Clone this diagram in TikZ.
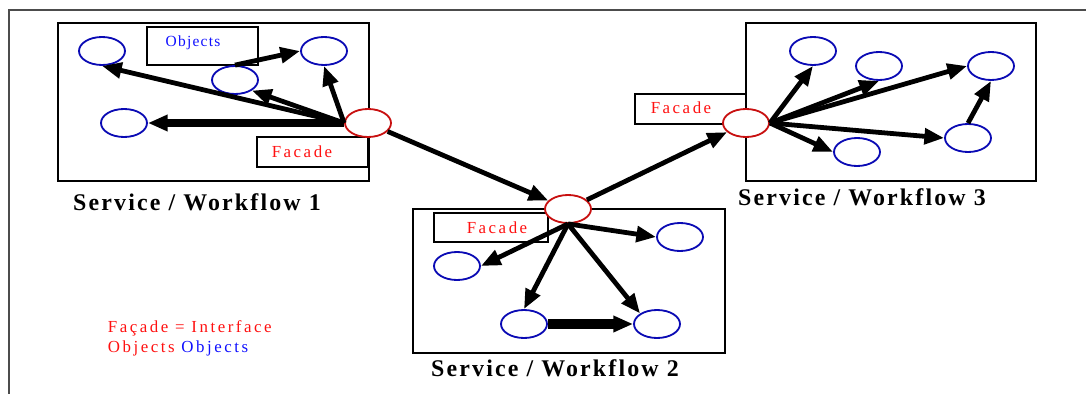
\documentclass[tikz,border=0pt]{standalone}
\usepackage{fontspec}
\setmainfont{Liberation Serif}
\newfontfamily\widefont[LetterSpace=15]{Liberation Serif}
\newfontfamily\titlefont[LetterSpace=9]{Liberation Serif}
\newfontfamily\tagfont[LetterSpace=8]{Liberation Serif}
\usetikzlibrary{arrows.meta,shapes.geometric}
\definecolor{objblue}{HTML}{0A0AB4}
\definecolor{facred}{HTML}{C81010}
\definecolor{txtred}{HTML}{FF1010}
\definecolor{txtblue}{HTML}{1010FF}

\tikzset{
  obj/.style={ellipse, draw=objblue, line width=1.3pt, fill=white,
    minimum width=1.15cm, minimum height=0.7cm, inner sep=0pt},
  fac/.style={obj, draw=facred},
  wfbox/.style={draw, line width=2pt},
  tagbox/.style={draw, line width=1.6pt, fill=white, inner sep=0pt},
  tagtext/.style={font=\widefont\fontsize{12}{14}\selectfont},
  wftitle/.style={font=\titlefont\fontsize{17}{19}\selectfont\bfseries},
  link/.style={-{Triangle[length=14pt,width=11pt]}, line width=3.4pt},
  heavy/.style={link, line width=5pt}
}

\begin{document}
\begin{tikzpicture}[x=0.025cm, y=-0.025cm]
	\useasboundingbox (0,0) rectangle (1086,394);
	% page frame
	\draw[line width=1.2pt, black!70] (9,394) -- (9,10) -- (1086,10);
	% service boxes
	\draw[wfbox] (58,23) rectangle (369,181);
	\draw[wfbox] (413,209) rectangle (725,353);
	\draw[wfbox] (746,23) rectangle (1036,181);
	% tags
	\node[tagbox, minimum width=2.78cm, minimum height=0.95cm] (objtag) at (202.5,46) {};
	\node[tagtext, font=\tagfont\fontsize{11}{13}\selectfont, text=txtblue] at (193,43) {Objects};
	\node[tagbox, minimum width=2.78cm, minimum height=0.75cm] (factag1) at (312.5,152) {};
	\node[tagtext, text=txtred] at (302,152) {Facade};
	\node[tagbox, minimum width=2.85cm, minimum height=0.72cm] (factag2) at (491,227.5) {};
	\node[tagtext, text=txtred] at (497,228) {Facade};
	\node[tagbox, minimum width=2.78cm, minimum height=0.75cm] (factag3) at (690.5,109) {};
	\node[tagtext, text=txtred] at (681,108) {Facade};

	% workflow 1
	\node[fac] (fa) at (368,123) {};
	\node[obj] (a1) at (102,51) {};
	\node[obj] (a2) at (235,80) {};
	\node[obj] (a3) at (324,51) {};
	\node[obj] (a4) at (124,123) {};
	% workflow 2
	\node[fac] (fb) at (568,209) {};
	\node[obj] (b1) at (457,266) {};
	\node[obj] (b2) at (680,237) {};
	\node[obj] (b3) at (524,324) {};
	\node[obj] (b4) at (657,324) {};
	% workflow 3
	\node[fac] (fc) at (746,123) {};
	\node[obj] (c1) at (813,51) {};
	\node[obj] (c2) at (879,66) {};
	\node[obj] (c3) at (991,66) {};
	\node[obj] (c4) at (968,138) {};
	\node[obj] (c5) at (857,152) {};

	\draw[link] (fa.west) -- (a1.south);
	\draw[link] (fa.west) -- (a2.south east);
	\draw[link] (fa.west) -- (a3.south);
	\draw[heavy] (fa.west) -- (a4.east);
	\draw[link] (a2.north) -- (a3.west);

	\draw[link] (fa) -- (fb);
	\draw[link] (fb) -- (fc);

	\draw[link] (fb.south) -- (b1.east);
	\draw[link] (fb.south) -- (b2.west);
	\draw[link] (fb.south) -- (b3.north);
	\draw[link] (fb.south) -- (b4.north west);
	\draw[heavy, line width=6.5pt] (b3.east) -- (b4.west);

	\draw[link] (fc.east) -- (c1.south);
	\draw[link] (fc.east) -- (c2.south);
	\draw[link] (fc.east) -- (c3.west);
	\draw[link] (fc.east) -- (c4.west);
	\draw[link] (fc.east) -- (c5.west);
	\draw[link] (c4.north) -- (c3.south);

	% titles
	\node[wftitle] (t1) at (197,202) {Service / Workflow 1};
	\node[wftitle] (t2) at (555,368) {Service / Workflow 2};
	\node[wftitle] (t3) at (862,197) {Service / Workflow 3};

	% legend
	\node[tagtext, text=txtred, anchor=west] (key1) at (103,328) {Façade = Interface};
	\node[tagtext, anchor=west] (key2) at (103,348) {\textcolor{txtred}{Objects} \textcolor{txtblue}{Objects}};
\end{tikzpicture}
\end{document}
